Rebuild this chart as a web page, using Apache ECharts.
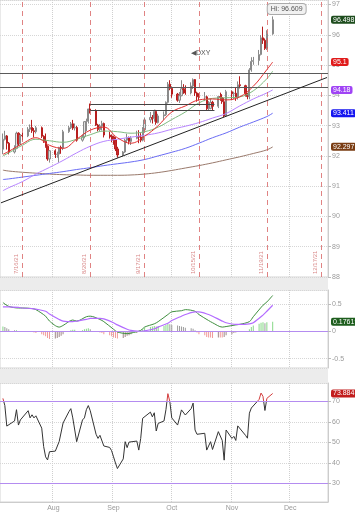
<!DOCTYPE html>
<html>
<head>
<meta charset="utf-8">
<style>
  html, body { margin: 0; padding: 0; background: #fff; }
  #main { width: 355px; height: 512px; }
</style>
<script src="https://cdn.jsdelivr.net/npm/echarts@6/dist/echarts.min.js"></script>
</head>
<body>
<div id="main"></div>
<script>
// trading days shown (2021)
const tradeDays = [
  '07-06','07-07','07-08','07-09','07-12','07-13','07-14','07-15','07-16','07-19','07-20','07-21','07-22','07-23','07-26','07-27','07-28','07-29','07-30',
  '08-02','08-03','08-04','08-05','08-06','08-09','08-10','08-11','08-12','08-13','08-16','08-17','08-18','08-19','08-20','08-23','08-24','08-25','08-26','08-27','08-30','08-31',
  '09-01','09-02','09-03','09-06','09-07','09-08','09-09','09-10','09-13','09-14','09-15','09-16','09-17','09-20','09-21','09-22','09-23','09-24','09-27','09-28','09-29','09-30',
  '10-01','10-04','10-05','10-06','10-07','10-08','10-11','10-12','10-13','10-14','10-15','10-18','10-19','10-20','10-21','10-22','10-25','10-26','10-27','10-28','10-29',
  '11-01','11-02','11-03','11-04','11-05','11-08','11-09','11-10','11-11','11-12','11-15','11-16','11-17','11-18','11-19','11-22'
].map(d => '2021-' + d);

const opens = [
  92.22, 92.55, 92.66, 92.42, 92.13, 92.25, 92.75, 92.40, 92.68, 92.66, 92.88, 92.94, 92.83, 92.80, 92.93, 92.65, 92.48, 92.32, 91.90,
  92.17, 92.05, 92.06, 92.28, 92.26, 92.80, 92.93, 93.06, 92.92, 92.94, 92.52, 92.64, 93.13, 93.14, 93.55, 93.50, 93.02, 92.87, 92.98, 93.07, 92.69, 92.66,
  92.63, 92.53, 92.23, 92.03, 92.13, 92.52, 92.60, 92.48, 92.58, 92.64, 92.62, 92.52, 92.86, 93.19, 93.27, 93.23, 93.47, 93.10, 93.32, 93.36, 93.77, 94.37,
  94.23, 94.04, 93.84, 93.99, 94.22, 94.19, 94.08, 94.31, 94.52, 94.08, 93.95, 93.94, 93.95, 93.56, 93.57, 93.77, 93.64, 93.96, 93.93, 93.79, 93.32,
  94.12, 94.05, 94.07, 93.93, 94.35, 94.32, 94.06, 93.96, 94.84, 95.12, 95.15, 95.35, 95.90, 95.82, 95.55, 96.03
];
const highs = [
  92.74, 92.83, 92.69, 92.46, 92.35, 92.80, 92.78, 92.72, 92.77, 92.95, 93.04, 93.19, 92.92, 92.99, 92.97, 92.68, 92.74, 92.35, 92.19,
  92.22, 92.14, 92.30, 92.34, 92.86, 92.99, 93.12, 93.19, 93.07, 92.99, 92.70, 93.15, 93.23, 93.56, 93.73, 93.54, 93.06, 93.05, 93.16, 93.10, 92.80, 92.71,
  92.67, 92.62, 92.30, 92.16, 92.57, 92.73, 92.64, 92.65, 92.83, 92.85, 92.75, 92.95, 93.27, 93.45, 93.35, 93.53, 93.52, 93.39, 93.47, 93.80, 94.44, 94.50,
  94.29, 94.08, 94.11, 94.50, 94.37, 94.33, 94.43, 94.56, 94.54, 94.12, 94.07, 94.11, 93.99, 93.81, 93.90, 93.82, 93.98, 94.09, 94.04, 93.92, 94.18,
  94.16, 94.12, 94.25, 94.46, 94.63, 94.35, 94.08, 94.90, 95.26, 95.27, 95.50, 95.99, 96.27, 95.88, 96.15, 96.609
];
const lows = [
  92.06, 92.51, 92.21, 92.05, 92.08, 92.22, 92.33, 92.36, 92.52, 92.62, 92.79, 92.76, 92.61, 92.74, 92.59, 92.43, 92.27, 91.84, 91.78,
  91.93, 91.94, 91.78, 92.07, 92.19, 92.76, 92.89, 92.86, 92.84, 92.47, 92.47, 92.58, 92.82, 93.07, 93.40, 92.99, 92.81, 92.82, 92.84, 92.61, 92.57, 92.45,
  92.37, 92.16, 91.94, 91.98, 92.10, 92.43, 92.38, 92.36, 92.55, 92.42, 92.45, 92.48, 92.83, 93.10, 93.07, 93.13, 93.03, 93.07, 93.19, 93.32, 93.73, 94.17,
  93.92, 93.79, 93.75, 93.97, 94.05, 94.02, 94.03, 94.21, 93.98, 93.79, 93.83, 93.81, 93.50, 93.49, 93.54, 93.50, 93.58, 93.82, 93.72, 93.28, 93.30,
  93.87, 93.88, 93.82, 93.86, 94.23, 93.96, 93.87, 93.87, 94.78, 95.01, 95.00, 95.32, 95.70, 95.50, 95.50, 96.00
];
const closes = [
  92.55, 92.66, 92.42, 92.13, 92.25, 92.75, 92.40, 92.68, 92.66, 92.88, 92.94, 92.83, 92.80, 92.93, 92.65, 92.48, 92.32, 91.90, 92.17,
  92.05, 92.06, 92.28, 92.26, 92.80, 92.93, 93.06, 92.92, 92.94, 92.52, 92.64, 93.13, 93.14, 93.55, 93.50, 93.02, 92.87, 92.98, 93.07, 92.69, 92.66, 92.63,
  92.53, 92.23, 92.03, 92.13, 92.52, 92.60, 92.48, 92.58, 92.64, 92.62, 92.52, 92.86, 93.19, 93.27, 93.23, 93.47, 93.10, 93.32, 93.36, 93.77, 94.37, 94.23,
  94.04, 93.84, 93.99, 94.22, 94.19, 94.08, 94.31, 94.52, 94.08, 93.95, 93.94, 93.95, 93.56, 93.57, 93.77, 93.64, 93.96, 93.93, 93.79, 93.32, 94.12,
  94.05, 94.07, 93.93, 94.35, 94.32, 94.06, 93.96, 94.84, 95.12, 95.15, 95.35, 95.90, 95.82, 95.55, 96.03, 96.498
];

// moving averages
const maDates = ['07-06','07-09','07-16','07-23','07-30','08-06','08-13','08-20','08-27','09-03','09-10',
  '09-17','09-24','10-01','10-08','10-15','10-22','10-29','11-05','11-12','11-19','11-22'].map(d => '2021-' + d);
const maRed    = [92.05, 92.15, 92.40, 92.60, 92.35, 92.25, 92.55, 92.85, 92.95, 92.60, 92.42, 92.65, 93.00, 93.45, 93.65, 93.85, 93.88, 93.85, 93.95, 94.30, 94.85, 95.1];
const maGreen  = [92.00, 92.10, 92.35, 92.55, 92.50, 92.45, 92.55, 92.70, 92.82, 92.80, 92.75, 92.80, 92.95, 93.20, 93.45, 93.75, 93.90, 93.92, 93.95, 94.15, 94.55, 94.80];
const maPurple = [90.85, 90.95, 91.15, 91.40, 91.62, 91.85, 92.10, 92.32, 92.48, 92.55, 92.62, 92.68, 92.76, 92.88, 92.98, 93.10, 93.25, 93.40, 93.65, 93.88, 94.08, 94.18];
const maBlue   = [91.22, 91.24, 91.30, 91.36, 91.42, 91.48, 91.55, 91.61, 91.68, 91.74, 91.80, 91.88, 92.00, 92.12, 92.25, 92.42, 92.60, 92.76, 92.95, 93.12, 93.30, 93.411];
const maBrown  = [91.53, 91.50, 91.46, 91.43, 91.40, 91.38, 91.37, 91.36, 91.36, 91.36, 91.37, 91.40, 91.45, 91.52, 91.60, 91.68, 91.77, 91.87, 91.97, 92.08, 92.20, 92.297];

// drawn levels
const levelUpper = 94.72;
const levelLower = 94.28;
const boxFrom = '2021-08-20', boxTo = '2021-10-23';
const boxTop = 93.70, boxBottom = 93.50;
const trendFrom = ['2021-07-05', 90.45];
const trendTo = ['2021-12-20', 94.59];
const expiryDates = ['2021-07-16', '2021-08-20', '2021-09-17', '2021-10-15', '2021-11-19', '2021-12-17'];

// MACD
const macdDates = ['07-06','07-09','07-14','07-16','07-21','07-23','07-28','07-30',
  '08-04','08-06','08-11','08-13','08-18','08-20','08-25','08-27',
  '09-01','09-03','09-08','09-10','09-15','09-17','09-22','09-24','09-29',
  '10-01','10-06','10-08','10-13','10-15','10-20','10-22','10-27','10-29',
  '11-03','11-05','11-10','11-12','11-17','11-19','11-22'].map(d => '2021-' + d);
const macdLine = [0.53, 0.46, 0.43, 0.43, 0.42, 0.40, 0.28, 0.19,
  0.08, 0.11, 0.21, 0.19, 0.27, 0.28, 0.22, 0.18,
  0.04, -0.01, -0.04, -0.03, 0.02, 0.08, 0.14, 0.18, 0.31,
  0.36, 0.38, 0.40, 0.37, 0.31, 0.20, 0.16, 0.08, 0.09,
  0.12, 0.13, 0.18, 0.27, 0.48, 0.54, 0.66];
const signalLine = [0.45, 0.45, 0.44, 0.43, 0.42, 0.41, 0.37, 0.32,
  0.22, 0.19, 0.18, 0.19, 0.22, 0.24, 0.24, 0.23,
  0.16, 0.12, 0.04, 0.02, 0.00, 0.01, 0.05, 0.08, 0.15,
  0.20, 0.28, 0.31, 0.36, 0.36, 0.31, 0.28, 0.19, 0.16,
  0.13, 0.13, 0.14, 0.16, 0.30, 0.37, 0.48];
const macdHist = [
  0.09, 0.08, 0.06, 0.04, 0.02, 0.02, 0.01, 0.01, 0.00, 0.01, 0.01, 0.00, -0.02, -0.03, -0.05, -0.07, -0.09, -0.12, -0.14,
  -0.13, -0.12, -0.10, -0.08, -0.05, -0.01, 0.02, 0.03, 0.03, 0.01, 0.02, 0.04, 0.05, 0.06, 0.04, 0.01, -0.01, -0.02, -0.03, -0.05, -0.07, -0.09,
  -0.11, -0.12, -0.13, -0.12, -0.10, -0.08, -0.07, -0.05, -0.03, -0.01, 0.02, 0.04, 0.07, 0.08, 0.09, 0.10, 0.09, 0.10, 0.10, 0.12, 0.14, 0.13,
  0.12, 0.11, 0.10, 0.09, 0.08, 0.07, 0.06, 0.05, 0.02, -0.02, -0.05, -0.07, -0.10, -0.11, -0.11, -0.12, -0.11, -0.11, -0.11, -0.10, -0.07,
  -0.05, -0.03, -0.02, 0.00, 0.01, 0.00, -0.01, 0.04, 0.08, 0.11, 0.14, 0.16, 0.17, 0.15, 0.17, 0.17619
];

// RSI
const rsi = [
  71.5, 68, 58, 57.5, 60.5, 66, 58.5, 61, 60.5, 65.5, 62, 63.5, 62, 63, 57, 48, 43, 41.5, 45.5,
  45.8, 46, 50.5, 50, 59.5, 65, 66.5, 62, 62.5, 50.4, 61, 62, 66, 68, 65.5, 54, 52, 53.5, 53, 48.3, 47.6, 46,
  43, 40, 37.3, 42, 50.4, 47.5, 50.2, 50, 50.7, 46.3, 52, 61.8, 61.5, 64.8, 62.5, 64.5, 55.6, 59.3, 60.5, 66, 73.8, 70,
  62, 58.5, 62, 65.9, 65.5, 63.4, 66.5, 69.2, 56.1, 54, 54.5, 54.5, 46.3, 46.6, 50.4, 46.6, 55.3, 54.5, 51, 41.4, 56.1,
  52, 53, 51, 58.1, 57.5, 53.5, 52.1, 64.3, 66.8, 66.5, 71, 74.1, 72.5, 65.6, 71.5, 73.8841
];

// calendar axis: every day from Jul 5 to Dec 20
const days = [];
for (let t = Date.UTC(2021, 6, 5); t <= Date.UTC(2021, 11, 20); t += 864e5) {
  days.push(new Date(t).toISOString().slice(0, 10));
}
const monthNames = ['Jan','Feb','Mar','Apr','May','Jun','Jul','Aug','Sep','Oct','Nov','Dec'];
const monthStart = (i, v) => v.slice(8) === '01';

const last = a => a[a.length - 1];
const pairs = (dates, vals) => dates.map((d, i) => [d, vals[i]]);
const candles = tradeDays.map((d, i) => [d, opens[i], closes[i], lows[i], highs[i]]);

function badge(value, bg) {
  return {
    yAxis: value,
    lineStyle: { color: 'rgba(0,0,0,0)', width: 1, type: 'solid' },
    label: {
      show: true, position: 'end', distance: 3, formatter: String(value),
      backgroundColor: bg, color: '#fff', fontSize: 7, padding: [1, 2, 0, 2], borderRadius: 2
    }
  };
}

function maSeries(name, vals, color, bg) {
  return {
    name, type: 'line', xAxisIndex: 0, yAxisIndex: 0, clip: false,
    data: pairs(maDates, vals), smooth: 0.4, showSymbol: false,
    lineStyle: { color, width: 1 },
    markLine: bg ? { silent: true, symbol: 'none', data: [badge(last(vals), bg)] } : undefined
  };
}

const chart = echarts.init(document.getElementById('main'));

const gridBox = { show: true, borderColor: '#d4d4d4', borderWidth: 1, backgroundColor: '#fff' };
const xBase = i => ({
  type: 'category', gridIndex: i, data: days, boundaryGap: true,
  axisLine: { show: i === 2, lineStyle: { color: '#ccc' } },
  axisTick: { show: false },
  axisLabel: {
    show: i === 2, interval: monthStart, fontSize: 7, color: '#999', margin: 3,
    formatter: v => monthNames[+v.slice(5, 7) - 1]
  },
  splitLine: { show: true, interval: monthStart, lineStyle: { type: 'dotted', color: '#cfcfcf' } }
});
const yBase = (i, min, max, step) => ({
  type: 'value', gridIndex: i, position: 'right', min, max, minInterval: step, maxInterval: step,
  axisLine: { show: true, lineStyle: { color: '#cccccc' } },
  axisTick: { show: true, length: 3, lineStyle: { color: '#bbbbbb' } },
  axisLabel: { fontSize: 7, color: '#9a9a9a', margin: 4, showMinLabel: i === 0, showMaxLabel: false },
  splitLine: { show: true, lineStyle: { type: 'dotted', color: '#d6d6d6' } }
});

const expiryLines = expiryDates.map(d => {
  const [y, m, day] = d.split('-');
  return {
    xAxis: d,
    lineStyle: { color: 'rgba(214,90,90,0.75)', type: [5, 4], width: 1 },
    label: {
      show: true, position: 'insideStartTop', distance: 3,
      formatter: (+m) + '/' + (+day) + '/' + y.slice(2), color: '#d98a8a', fontSize: 6
    }
  };
});

chart.setOption({
  animation: false,
  textStyle: { fontFamily: 'Liberation Sans' },
  grid: [
    Object.assign({ left: 0, top: 0, width: 328, height: 277 }, gridBox),
    Object.assign({ left: 0, top: 290, width: 328, height: 78 }, gridBox),
    Object.assign({ left: 0, top: 383, width: 328, height: 119 }, gridBox)
  ],
  xAxis: [xBase(0), xBase(1), xBase(2)],
  yAxis: [yBase(0, 88, 97.15, 1), yBase(1, -0.67, 0.76, 0.5), yBase(2, 21, 79, 10)],
  visualMap: {
    type: 'piecewise', show: false, seriesIndex: 9, dimension: 1,
    pieces: [{ gt: 70, lte: 100, color: '#d23c3c' }, { gte: 0, lte: 70, color: '#333333' }]
  },
  graphic: [
    { type: 'rect', silent: true, shape: { x: 0, y: 278, width: 328, height: 12 }, style: { fill: '#ececec' } },
    { type: 'rect', silent: true, shape: { x: 0, y: 368, width: 328, height: 15 }, style: { fill: '#ececec' } },
    { type: 'text', left: 191, top: 50, style: { text: '◀DXY', fontSize: 7, fill: '#555', fontFamily: 'Liberation Sans' } }
  ],
  series: [
    {
      name: 'DXY', type: 'candlestick', xAxisIndex: 0, yAxisIndex: 0, clip: false,
      dimensions: ['date', 'open', 'close', 'lowest', 'highest'],
      encode: { x: 'date', y: ['open', 'close', 'lowest', 'highest'] },
      data: candles, barWidth: 1.7,
      itemStyle: { color: '#e2e2e2', color0: '#c62a2a', borderColor: '#8a8a8a', borderColor0: '#b71e1e', borderWidth: 1 },
      markLine: {
        silent: true, symbol: 'none',
        lineStyle: { color: '#444', width: 1, type: 'solid' },
        label: { show: false },
        data: expiryLines.concat([
          { yAxis: levelUpper, lineStyle: { color: '#5a5a5a' } },
          { yAxis: levelLower, lineStyle: { color: '#5a5a5a' } },
          [{ coord: [boxFrom, boxTop], lineStyle: { color: '#444' } }, { coord: [boxTo, boxTop] }],
          [{ coord: [boxFrom, boxBottom], lineStyle: { color: '#444' } }, { coord: [boxTo, boxBottom] }],
          [{ coord: trendFrom, lineStyle: { color: '#222' } }, { coord: trendTo }],
          badge(last(closes), '#1e4d1e')
        ])
      },
      markPoint: {
        silent: true, symbol: 'circle', symbolSize: 1, itemStyle: { color: 'rgba(0,0,0,0)' },
        data: [{ type: 'max', valueDim: 'highest' }],
        label: {
          show: true, position: 'top', distance: 2, offset: [14, 0],
          formatter: p => 'Hi: ' + p.value, fontSize: 7, color: '#555',
          backgroundColor: '#f1f1f1', borderColor: '#aaa', borderWidth: 1, borderRadius: 3, padding: [2, 3, 1, 3]
        }
      }
    },
    maSeries('MA200', maBrown, '#9a7a6c', '#7a3c12'),
    maSeries('MA100', maBlue, '#6a6cf5', '#1616f0'),
    maSeries('MA50', maPurple, '#b784ff', '#a044f5'),
    maSeries('MA20', maGreen, '#7fbb7f', null),
    maSeries('MA10', maRed, '#e23030', '#e01b1b'),
    {
      name: 'Hist', type: 'bar', xAxisIndex: 1, yAxisIndex: 1, clip: false,
      data: pairs(tradeDays, macdHist), barWidth: 1,
      itemStyle: {
        color: p => {
          const v = macdHist[p.dataIndex];
          const prev = p.dataIndex > 0 ? macdHist[p.dataIndex - 1] : v;
          if (v >= 0) return v >= prev ? '#86d886' : '#9c9c9c';
          return v <= prev ? '#f09a9a' : '#a08888';
        }
      },
      markLine: {
        silent: true, symbol: 'none',
        data: [
          { yAxis: 0, lineStyle: { color: '#b48cf0', width: 1, type: 'solid' }, label: { show: false } },
          badge(last(macdHist), '#1e5e1e')
        ]
      }
    },
    {
      name: 'MACD', type: 'line', xAxisIndex: 1, yAxisIndex: 1,
      data: pairs(macdDates, macdLine), smooth: 0.3, showSymbol: false,
      lineStyle: { color: '#3f8f3f', width: 1 }
    },
    {
      name: 'Signal', type: 'line', xAxisIndex: 1, yAxisIndex: 1,
      data: pairs(macdDates, signalLine), smooth: 0.3, showSymbol: false,
      lineStyle: { color: '#b36cff', width: 1.2 }
    },
    {
      name: 'RSI', type: 'line', xAxisIndex: 2, yAxisIndex: 2, clip: false,
      data: pairs(tradeDays, rsi), showSymbol: false,
      lineStyle: { width: 1 },
      markLine: {
        silent: true, symbol: 'none',
        data: [
          { yAxis: 70, lineStyle: { color: '#b48cf0', width: 1, type: 'solid' }, label: { show: false } },
          { yAxis: 30, lineStyle: { color: '#b48cf0', width: 1, type: 'solid' }, label: { show: false } },
          badge(last(rsi), '#c21d1d')
        ]
      }
    }
  ]
});
</script>
</body>
</html>
